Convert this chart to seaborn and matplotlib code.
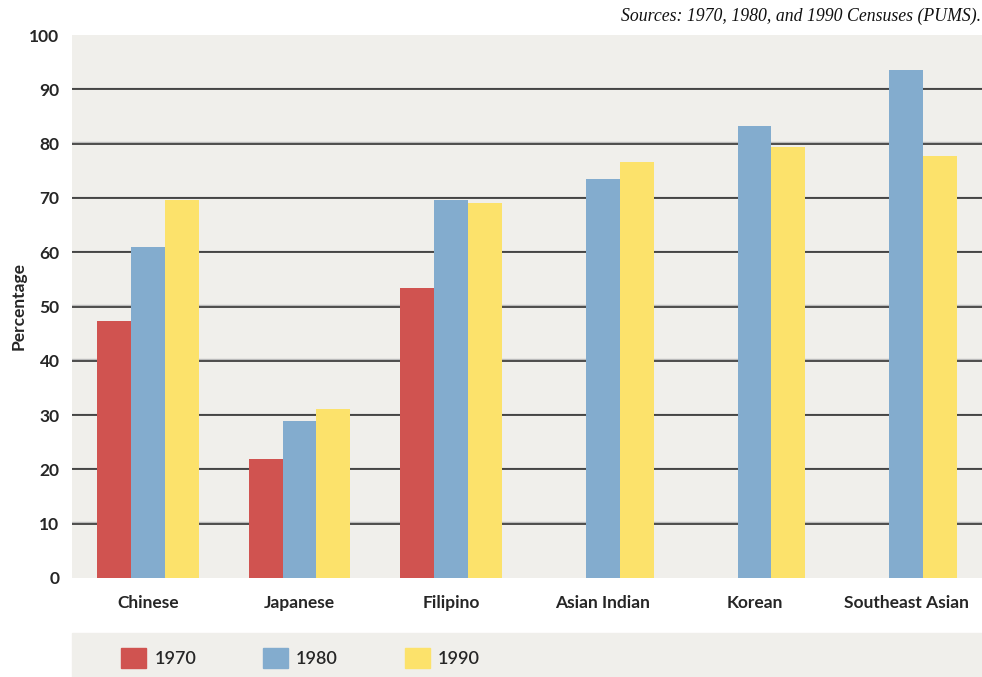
import matplotlib
matplotlib.use("Agg")
import matplotlib.pyplot as plt
import matplotlib.patches as mpatches
import numpy as np
import pandas as pd
import seaborn as sns

# ---------------- DATA ----------------
groups = ["Chinese", "Japanese", "Filipino", "Asian Indian", "Korean", "Southeast Asian"]
years = ["1970", "1980", "1990"]
pct_1970 = [47.3, 21.9, 53.4, np.nan, np.nan, np.nan]
pct_1980 = [61.0, 28.9, 69.6, 73.5, 83.2, 93.6]
pct_1990 = [69.6, 31.1, 69.1, 76.6, 79.4, 77.7]
y_ticks = [0, 10, 20, 30, 40, 50, 60, 70, 80, 90, 100]

colors = ["#D05350", "#83ACCE", "#FCE26B"]
bg = "#F0EFEB"

df = pd.DataFrame({
    "Group": groups * 3,
    "Year": [years[0]] * 6 + [years[1]] * 6 + [years[2]] * 6,
    "Percentage": pct_1970 + pct_1980 + pct_1990,
})

sns.set_style("white")
plt.rcParams["font.family"] = ["Lato", "DejaVu Sans"]

fig = plt.figure(figsize=(9.82, 6.77), dpi=100)
ax = fig.add_axes([72 / 982, 99 / 677, 910 / 982, 543 / 677])
ax.set_facecolor(bg)

sns.barplot(
    data=df, x="Group", y="Percentage", hue="Year",
    palette=colors, width=0.67, saturation=1, ax=ax,
    legend=False, linewidth=0,
)

ax.set_xlim(-0.5, 5.5)
ax.set_ylim(0, 100)
ax.set_yticks(y_ticks)
ax.set_yticklabels([str(t) for t in y_ticks], fontsize=12.5, fontweight="bold")

# gridlines at 10..90 (dark line with a faint highlight above)
for t in y_ticks[1:-1]:
    ax.axhline(t + 0.25, color="#BBBBBB", lw=1.0, zorder=0.5)
    ax.axhline(t, color="#222222", lw=1.1, zorder=0.6)

for s in ax.spines.values():
    s.set_visible(False)

ax.tick_params(axis="y", length=0, pad=9)
ax.tick_params(axis="x", length=0, pad=12)
ax.set_xticks(range(len(groups)))
ax.set_xticklabels(groups, fontsize=12.5, fontweight="bold")

# group separators
ax.set_xticks(np.arange(0.5, 5.0, 1.0), minor=True)
ax.tick_params(axis="x", which="minor", direction="in", length=12, width=1, color="#222222")

ax.set_xlabel("")
ax.set_ylabel("Percentage", fontsize=12.5, fontweight="bold", labelpad=2)

# source note
fig.text(0.999, 0.976, "Sources: 1970, 1980, and 1990 Censuses (PUMS).",
         ha="right", va="center", fontsize=12.8, style="italic",
         family="Liberation Serif", color="#111111")

# legend band
fig.patches.append(mpatches.Rectangle((72 / 982, 0), 910 / 982, 44 / 677,
                                      transform=fig.transFigure, color=bg, zorder=0))
handles = [mpatches.Patch(color=c, label=y) for c, y in zip(colors, years)]
fig.legend(handles=handles, loc="center left", bbox_to_anchor=(105 / 982, 19 / 677),
           ncol=3, frameon=False, handlelength=1.38, handleheight=1.38,
           handletextpad=0.45, columnspacing=3.7,
           prop={"size": 13, "weight": "semibold"})

plt.savefig("out.png", dpi=100)
plt.close()
